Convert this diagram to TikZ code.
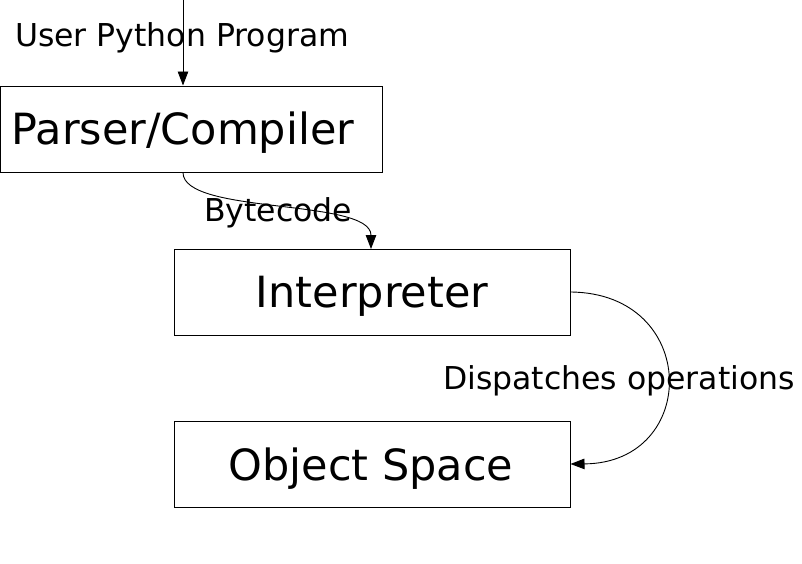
\documentclass[tikz,border=0pt]{standalone}
\usepackage{fontspec}
\setmainfont{DejaVu Sans}
\usetikzlibrary{arrows.meta}
\begin{document}
\begin{tikzpicture}[x=1pt,y=-1pt,
  box/.style={draw=black,line width=1pt,fill=white,inner sep=0pt},
  big/.style={font=\fontsize{43}{43}\selectfont,inner sep=0pt,anchor=base},
  lab/.style={font=\fontsize{31.5}{32}\selectfont,inner sep=0pt,anchor=base},
  conn/.style={line width=0.9pt,-{Triangle[length=14pt,width=10.5pt]}}]
\useasboundingbox[fill=white] (0,0) rectangle (802,563);
\node[box,minimum width=382pt,minimum height=86pt] (pc) at (191,129) {};
\node[box,minimum width=396pt,minimum height=86pt] (int) at (372,292) {};
\node[box,minimum width=396pt,minimum height=86pt] (obj) at (372,464) {};
\node[big] (pct) at (183,144) {Parser/Compiler};
\node[big] (intt) at (372,307) {Interpreter};
\node[big] (objt) at (371,480) {Object Space};
\node[lab] (upp) at (182,46) {User Python Program};
\node[lab] (bc) at (278,221) {Bytecode};
\node[lab] (disp) at (619,389) {Dispatches operations};
\coordinate (src) at (183,0);
\draw[conn] (src) -- (src |- pc.north);
\draw[conn] (src |- pc.south) .. controls (183,215) and (371,198) .. (371,249);
\draw[conn] (int.east) .. controls (700,293) and (700,463) .. (obj.east);
\end{tikzpicture}
\end{document}
